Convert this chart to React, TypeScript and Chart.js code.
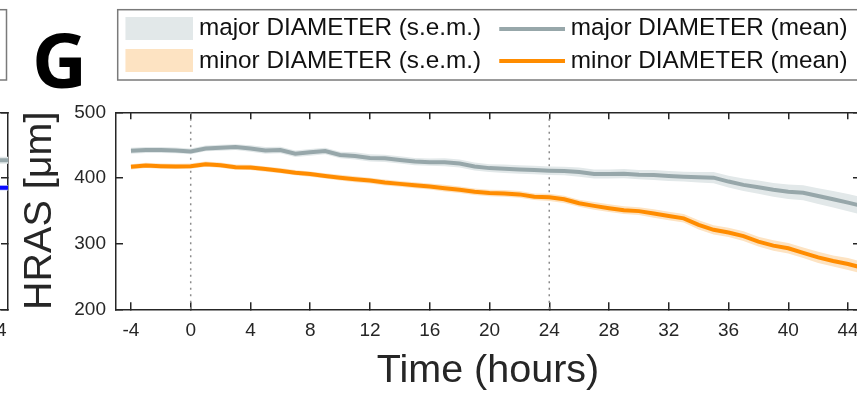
import React, { useEffect, useRef } from 'react';
import { Chart, registerables } from 'chart.js';

Chart.register(...registerables);

// ---------------- data (panel G) ----------------
const hours = [
  -4, -3, -2, -1, 0, 1, 2, 3, 4, 5, 6, 7, 8, 9, 10, 11, 12, 13, 14, 15, 16, 17, 18, 19, 20,
  21, 22, 23, 24, 25, 26, 27, 28, 29, 30, 31, 32, 33, 34, 35, 36, 37, 38, 39, 40, 41, 42, 43, 44, 45,
];
const majorMean = [
  441.5, 442.5, 442.5, 442, 440.5,
  445, 446, 447, 445, 442, 442.5, 437, 439,
  441, 435, 433.5, 430.5, 430, 427.5, 425, 424,
  424, 422, 417.5, 415, 414, 413, 412, 411,
  410.5, 409, 406, 406, 406.5, 405, 404.5, 403,
  402, 401, 400.5, 394.5, 389.5, 386, 382, 379,
  377.5, 372.5, 367.5, 362.5, 357,
];
const majorSem = [
  4.5, 4.5, 4.5, 4.5, 4.5,
  4.5, 4.5, 4.5, 5, 5, 5, 5, 5,
  5, 5, 5.5, 5.5, 5.5, 5.5, 5.5, 5.5,
  6, 6, 6, 6, 6.5, 6.5, 6.5, 6.5,
  6.5, 7, 7, 7, 7, 7, 7.5, 7.5,
  7.5, 8, 8.5, 9, 9.5, 10, 10.5, 11,
  11.5, 12, 12.5, 13, 13.5,
];
const minorMean = [
  417, 419, 418, 417.5, 418,
  421, 419.5, 416.5, 416, 413.5, 411, 408, 406,
  403, 400.5, 398, 396, 393, 391, 389, 387,
  384.5, 382, 379, 377, 376.5, 375, 371.5, 370.5,
  367.5, 361.5, 357.5, 354, 351, 349.5, 346, 342,
  338.5, 328.5, 321, 317, 311.5, 303, 297, 293,
  286, 279, 273.5, 269, 263,
];
const minorSem = [
  4, 4, 4, 4, 4,
  4, 4, 4, 4, 4, 4, 4, 4,
  4, 4.5, 4.5, 4.5, 4.5, 4.5, 4.5, 4.5,
  5, 5, 5, 5, 5, 5, 5, 5.5,
  5.5, 5.5, 6, 6, 6, 6, 6.5, 6.5,
  6.5, 7, 7, 7, 7.5, 7.5, 8, 8,
  8, 8.5, 8.5, 9, 9,
];
const markerHours = [0, 24];
const xTickValues = [-4, 0, 4, 8, 12, 16, 20, 24, 28, 32, 36, 40, 44];
const yTickValues = [200, 300, 400, 500];
const xLimits = [-5, 44.8];
const yLimits = [200, 500];
const legendNames = [
  'major DIAMETER (s.e.m.)',
  'major DIAMETER (mean)',
  'minor DIAMETER (s.e.m.)',
  'minor DIAMETER (mean)',
];
const panelLetter = 'G';
const xTitle = 'Time (hours)';
const yTitle = 'HRAS [μm]';

// ------------- data (right edge of the neighbouring panel) -------------
const leftHours = [42, 43, 44, 45];
const leftMajorMean = [427, 427, 427, 427];
const leftMajorSem = [5.5, 5.5, 5.5, 5.5];
const leftMinorMean = [385, 385, 385, 385];
const leftMinorSem = [4, 4, 4, 4];

// ---------------- styles ----------------
const FONT = '"Liberation Sans", Arial, Helvetica, sans-serif';
const INK = '#262626';
const GREY = '#97a7aa';
const GREY_BAND = '#e2e8e9';
const ORANGE = '#ff8c00';
const ORANGE_BAND = '#fde3c2';
const BLUE = '#0a0aff';
const BLUE_BAND = '#c9d0ff';
const DOTTED = '#8c8c8c';

function swatch(color: string, w: number, h: number) {
  const c = document.createElement('canvas');
  c.width = 76;
  c.height = h;
  const g = c.getContext('2d')!;
  g.fillStyle = color;
  g.fillRect(76 - w, 0, w, h);
  return c;
}

function pts(xs: number[], ys: number[]) {
  return xs.map((x, i) => ({ x, y: ys[i] }));
}

function buildScales() {
  const grid = {
    drawOnChartArea: false,
    drawTicks: true,
    tickLength: -7,
    color: INK,
    lineWidth: 1.5,
  };
  const border = { display: true, color: INK, width: 1.5 };
  const xTicks = (s: any) => {
    s.ticks = xTickValues.map((v) => ({ value: v }));
  };
  const yTicks = (s: any) => {
    s.ticks = yTickValues.map((v) => ({ value: v }));
  };
  const emptyTitle = (pad: any) => ({
    display: true,
    text: '',
    font: { family: FONT, size: 10, lineHeight: 1 },
    padding: pad,
  });
  return {
    x: {
      type: 'linear',
      position: 'bottom',
      min: xLimits[0],
      max: xLimits[1],
      afterBuildTicks: xTicks,
      grid,
      border,
      ticks: { color: INK, font: { family: FONT, size: 19 }, padding: 17.3, maxRotation: 0, autoSkip: false },
      title: {
        display: true,
        text: xTitle,
        color: INK,
        font: { family: FONT, size: 39.5 },
        padding: { top: -11.9, bottom: 1.8 },
      },
    },
    x2: {
      type: 'linear',
      position: 'top',
      min: xLimits[0],
      max: xLimits[1],
      afterBuildTicks: xTicks,
      grid,
      border,
      ticks: { display: false },
      title: emptyTitle({ top: 0, bottom: 26.2 }),
    },
    y: {
      type: 'linear',
      position: 'left',
      min: yLimits[0],
      max: yLimits[1],
      afterBuildTicks: yTicks,
      grid,
      border,
      ticks: { color: INK, font: { family: FONT, size: 19 }, padding: 17 },
      title: {
        display: true,
        text: yTitle,
        color: INK,
        font: { family: FONT, size: 39.5 },
        padding: { top: 0, bottom: -6.4 },
      },
    },
    y2: {
      type: 'linear',
      position: 'right',
      min: yLimits[0],
      max: yLimits[1],
      afterBuildTicks: yTicks,
      grid,
      border,
      ticks: { display: false },
      title: emptyTitle(0),
    },
  };
}

const legendFrame = {
  id: 'legendFrame',
  afterDraw(chart: any) {
    const { ctx, chartArea } = chart;
    ctx.save();
    ctx.strokeStyle = '#7a7a7a';
    ctx.lineWidth = 1.5;
    const l = chartArea.left + 1.7;
    const r = chartArea.right - 1.5;
    ctx.strokeRect(l, 9.7, r - l, 80 - 9.7);
    ctx.restore();
  },
};

const letterPlugin = {
  id: 'panelLetter',
  afterDraw(chart: any) {
    const { ctx } = chart;
    ctx.save();
    ctx.fillStyle = '#000';
    ctx.font = 'bold 76px "Open Sans", "Liberation Sans", sans-serif';
    ctx.textBaseline = 'alphabetic';
    ctx.textAlign = 'left';
    ctx.fillText(panelLetter, 32, 87.5);
    ctx.restore();
  },
};

function lineDs(label: string, data: any[], color: string) {
  return {
    label,
    data,
    borderColor: color,
    borderWidth: 4,
    pointRadius: 0,
    tension: 0,
    fill: false,
    order: 0,
  };
}

function bandDs(label: string, data: any[], fill: any, color: string) {
  return {
    label,
    data,
    borderColor: 'transparent',
    borderWidth: 0,
    backgroundColor: color,
    pointRadius: 0,
    tension: 0,
    fill,
    order: 1,
  };
}

function markerDs() {
  return markerHours.map((h) => ({
    label: 'marker ' + h,
    data: [
      { x: h, y: yLimits[0] },
      { x: h, y: yLimits[1] },
    ],
    borderColor: DOTTED,
    borderWidth: 1.5,
    borderDash: [2, 4.5],
    pointRadius: 0,
    fill: false,
    order: 2,
  }));
}

function mainConfig(): any {
  const upper = (m: number[], s: number[]) => m.map((v, i) => v + s[i]);
  const lower = (m: number[], s: number[]) => m.map((v, i) => v - s[i]);
  const entries = [
    { text: legendNames[0] + ' ', style: swatch(GREY_BAND, 68, 23) },
    { text: legendNames[1], style: swatch(GREY, 66, 4) },
    { text: legendNames[2] + ' ', style: swatch(ORANGE_BAND, 68, 23) },
    { text: legendNames[3], style: swatch(ORANGE, 66, 4) },
  ];
  return {
    type: 'line',
    data: {
      datasets: [
        lineDs(legendNames[1], pts(hours, majorMean), GREY),
        lineDs(legendNames[3], pts(hours, minorMean), ORANGE),
        bandDs(legendNames[0], pts(hours, upper(majorMean, majorSem)), '+1', GREY_BAND),
        bandDs(legendNames[0] + ' lower', pts(hours, lower(majorMean, majorSem)), false, GREY_BAND),
        bandDs(legendNames[2], pts(hours, upper(minorMean, minorSem)), '+1', ORANGE_BAND),
        bandDs(legendNames[2] + ' lower', pts(hours, lower(minorMean, minorSem)), false, ORANGE_BAND),
        ...markerDs(),
      ],
    },
    options: {
      animation: false,
      responsive: false,
      devicePixelRatio: 1,
      events: [],
      layout: { padding: { left: 16.3, right: 37, top: 8.5, bottom: 0 } },
      scales: buildScales(),
      plugins: {
        tooltip: { enabled: false },
        legend: {
          display: true,
          position: 'top',
          align: 'start',
          fullSize: false,
          labels: {
            usePointStyle: true,
            pointStyleWidth: 62.8,
            padding: 8,
            color: '#111',
            font: { family: FONT, size: 24.3 },
            generateLabels: () =>
              entries.map((e, i) => ({
                text: e.text,
                pointStyle: e.style,
                fillStyle: 'transparent',
                strokeStyle: 'transparent',
                lineWidth: 0,
                hidden: false,
                datasetIndex: i,
                fontColor: '#111',
              })),
          },
        },
      },
    },
    plugins: [legendFrame, letterPlugin],
  };
}

function leftConfig(): any {
  const upper = (m: number[], s: number[]) => m.map((v, i) => v + s[i]);
  const lower = (m: number[], s: number[]) => m.map((v, i) => v - s[i]);
  return {
    type: 'line',
    data: {
      datasets: [
        lineDs(legendNames[1], pts(leftHours, leftMajorMean), GREY),
        lineDs(legendNames[3], pts(leftHours, leftMinorMean), BLUE),
        bandDs(legendNames[0], pts(leftHours, upper(leftMajorMean, leftMajorSem)), '+1', GREY_BAND),
        bandDs(legendNames[0] + ' lower', pts(leftHours, lower(leftMajorMean, leftMajorSem)), false, GREY_BAND),
        bandDs(legendNames[2], pts(leftHours, upper(leftMinorMean, leftMinorSem)), '+1', BLUE_BAND),
        bandDs(legendNames[2] + ' lower', pts(leftHours, lower(leftMinorMean, leftMinorSem)), false, BLUE_BAND),
      ],
    },
    options: {
      animation: false,
      responsive: false,
      devicePixelRatio: 1,
      events: [],
      layout: { padding: { left: 16.3, right: 37, top: 83.1, bottom: 0 } },
      scales: buildScales(),
      plugins: {
        tooltip: { enabled: false },
        legend: { display: false },
      },
    },
    plugins: [legendFrame],
  };
}

export default function App() {
  const mainRef = useRef<HTMLCanvasElement>(null);
  const leftRef = useRef<HTMLCanvasElement>(null);
  useEffect(() => {
    const charts = [
      new Chart(mainRef.current as HTMLCanvasElement, mainConfig()),
      new Chart(leftRef.current as HTMLCanvasElement, leftConfig()),
    ];
    return () => charts.forEach((c) => c.destroy());
  }, []);
  return (
    <div
      style={{
        position: 'absolute',
        left: 0,
        top: 0,
        width: 857,
        height: 397,
        overflow: 'hidden',
        background: '#fff',
      }}
    >
      <canvas
        ref={mainRef}
        width={900}
        height={397}
        style={{ position: 'absolute', left: 0, top: 0, width: 900, height: 397 }}
      />
      <canvas
        ref={leftRef}
        width={900}
        height={397}
        style={{ position: 'absolute', left: -852, top: 0, width: 900, height: 397 }}
      />
    </div>
  );
}
